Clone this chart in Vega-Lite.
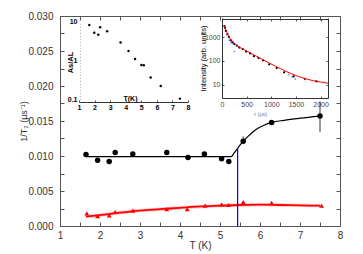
{
  "$schema": "https://vega.github.io/schema/vega-lite/v6.json",
  "width": 280,
  "height": 210,
  "autosize": {"type": "none"},
  "padding": {"left": 60, "top": 16, "right": 23, "bottom": 28},
  "config": {
    "view": {"stroke": null},
    "font": "Liberation Sans",
    "axis": {"grid": false, "domainColor": "#555", "tickColor": "#555", "labelColor": "#333", "labelFont": "Liberation Sans", "titleFont": "Liberation Sans", "labelFontSize": 10, "labelFlush": false, "labelOverlap": false}
  },
  "datasets": {
    "ptsBlack": [
      {"T": 1.65, "v": 0.0102}, {"T": 1.94, "v": 0.0094}, {"T": 2.23, "v": 0.0092}, {"T": 2.38, "v": 0.0105},
      {"T": 2.82, "v": 0.0103}, {"T": 3.67, "v": 0.0105}, {"T": 4.2, "v": 0.0098}, {"T": 4.61, "v": 0.0103},
      {"T": 5.04, "v": 0.0096}, {"T": 5.22, "v": 0.0092}, {"T": 5.58, "v": 0.0121}, {"T": 6.29, "v": 0.0148},
      {"T": 7.5, "v": 0.0157}
    ],
    "ptsRed": [
      {"T": 1.67, "v": 0.0018}, {"T": 1.94, "v": 0.0014}, {"T": 2.23, "v": 0.0015}, {"T": 2.38, "v": 0.002},
      {"T": 2.82, "v": 0.0022}, {"T": 3.67, "v": 0.0024}, {"T": 4.18, "v": 0.0024}, {"T": 4.63, "v": 0.0029},
      {"T": 5.04, "v": 0.0031}, {"T": 5.21, "v": 0.003}, {"T": 5.58, "v": 0.0034}, {"T": 6.29, "v": 0.0033},
      {"T": 7.54, "v": 0.0029}
    ],
    "fitBlack": [
      {"T": 1.65, "v": 0.0099}, {"T": 5.28, "v": 0.0099}, {"T": 5.35, "v": 0.0104}, {"T": 5.44, "v": 0.0111},
      {"T": 5.55, "v": 0.0119}, {"T": 5.7, "v": 0.0128}, {"T": 5.9, "v": 0.0138}, {"T": 6.1, "v": 0.0144},
      {"T": 6.3, "v": 0.0148}, {"T": 6.6, "v": 0.0151}, {"T": 7.0, "v": 0.0154}, {"T": 7.5, "v": 0.0157}
    ],
    "fitRed": [
      {"T": 1.65, "v": 0.00135}, {"T": 2.0, "v": 0.00155}, {"T": 2.5, "v": 0.0019}, {"T": 3.0, "v": 0.0022},
      {"T": 3.5, "v": 0.0024}, {"T": 4.0, "v": 0.0026}, {"T": 4.5, "v": 0.0028}, {"T": 5.0, "v": 0.0029},
      {"T": 5.5, "v": 0.003}, {"T": 6.0, "v": 0.00305}, {"T": 6.5, "v": 0.003}, {"T": 7.0, "v": 0.00295},
      {"T": 7.5, "v": 0.0029}
    ],
    "vline": [{"T": 5.44, "v": 0, "v2": 0.0111}],
    "errs": [{"T": 7.5, "v": 0.0134, "v2": 0.0178}, {"T": 5.58, "v": 0.0117, "v2": 0.0128}],
    "inset1": [
      {"T": 1.66, "r": 8.2}, {"T": 1.98, "r": 5.2}, {"T": 2.24, "r": 4.6}, {"T": 2.36, "r": 7.2},
      {"T": 2.81, "r": 5.7}, {"T": 3.67, "r": 2.9}, {"T": 4.18, "r": 1.75}, {"T": 4.6, "r": 1.09},
      {"T": 5.01, "r": 0.77}, {"T": 5.16, "r": 0.75}, {"T": 5.6, "r": 0.365}, {"T": 6.25, "r": 0.22},
      {"T": 7.48, "r": 0.104}
    ],
    "inset2fit": [
      {"t": 40, "I": 3200}, {"t": 60, "I": 2600}, {"t": 80, "I": 2000}, {"t": 110, "I": 1450}, {"t": 150, "I": 1000},
      {"t": 200, "I": 720}, {"t": 250, "I": 560}, {"t": 300, "I": 460}, {"t": 350, "I": 390}, {"t": 450, "I": 300},
      {"t": 550, "I": 235}, {"t": 650, "I": 180}, {"t": 750, "I": 140}, {"t": 850, "I": 108}, {"t": 950, "I": 83},
      {"t": 1100, "I": 58}, {"t": 1250, "I": 40}, {"t": 1400, "I": 29}, {"t": 1550, "I": 22}, {"t": 1700, "I": 17.5},
      {"t": 1850, "I": 14.5}, {"t": 2000, "I": 12.8}, {"t": 2150, "I": 11.3}
    ],
    "inset2black": [
      {"t": 50, "I": 3000}, {"t": 62, "I": 2570}, {"t": 80, "I": 1900}, {"t": 110, "I": 1400}, {"t": 140, "I": 1050},
      {"t": 180, "I": 760}, {"t": 210, "I": 650}, {"t": 248, "I": 530}, {"t": 300, "I": 450}, {"t": 351, "I": 370},
      {"t": 420, "I": 320}, {"t": 490, "I": 250}, {"t": 570, "I": 210}, {"t": 647, "I": 160}, {"t": 740, "I": 135},
      {"t": 833, "I": 105}, {"t": 957, "I": 72}, {"t": 1110, "I": 50}, {"t": 1260, "I": 33}, {"t": 1453, "I": 22},
      {"t": 1680, "I": 17.5}, {"t": 1915, "I": 13.5}
    ],
    "inset2blue": [
      {"t": 70, "I": 2000}, {"t": 100, "I": 1300}, {"t": 145, "I": 775}, {"t": 180, "I": 600}, {"t": 213, "I": 565},
      {"t": 248, "I": 250}, {"t": 1350, "I": 26}, {"t": 1420, "I": 21}, {"t": 1487, "I": 17}
    ]
  },
  "layer": [
    {
      "encoding": {
        "x": {"field": "T", "type": "quantitative", "scale": {"domain": [1, 8], "nice": false, "zero": false},
          "axis": {"orient": "bottom", "values": [1, 1.5, 2, 2.5, 3, 3.5, 4, 4.5, 5, 5.5, 6, 6.5, 7, 7.5, 8], "format": "~g",
            "labelExpr": "datum.value % 1 == 0 ? datum.label : ''", "tickSize": -4, "labelPadding": 8,
            "title": "T (K)", "titleFontSize": 10, "titleFontWeight": "normal", "titleColor": "#333", "titleY": 19, "titleBaseline": "middle"}},
        "y": {"field": "v", "type": "quantitative", "scale": {"domain": [0, 0.03], "nice": false, "zero": false},
          "axis": {"orient": "left", "values": [0, 0.0025, 0.005, 0.0075, 0.01, 0.0125, 0.015, 0.0175, 0.02, 0.0225, 0.025, 0.0275, 0.03], "format": ".3f",
            "labelExpr": "round(datum.value*10000) % 50 == 0 ? datum.label : ''", "tickSize": -4, "labelPadding": 11,
            "title": "1/T₂ (μs⁻¹)", "titleFontSize": 9, "titleFontWeight": "normal", "titleColor": "#333", "titleAngle": -90,
            "titleX": -37, "titleY": 105, "titleBaseline": "middle", "titleAlign": "center"}}
      },
      "layer": [
        {"data": {"name": "fitRed"}, "mark": {"type": "line", "color": "#ff0000", "strokeWidth": 3.5, "opacity": 0.2, "interpolate": "monotone"}},
        {"data": {"name": "fitRed"}, "mark": {"type": "line", "color": "#ff0000", "strokeWidth": 1.8, "interpolate": "monotone"}},
        {"data": {"name": "fitBlack"}, "mark": {"type": "line", "color": "#000000", "strokeWidth": 1.2, "interpolate": "monotone"}},
        {"data": {"name": "vline"}, "mark": {"type": "rule", "color": "#0000ff", "strokeWidth": 1.2}, "encoding": {"y2": {"field": "v2"}}},
        {"data": {"name": "errs"}, "mark": {"type": "rule", "color": "#000000", "strokeWidth": 0.8}, "encoding": {"y2": {"field": "v2"}}},
        {"data": {"name": "ptsRed"}, "mark": {"type": "point", "shape": "triangle-up", "filled": true, "color": "#ff0000", "size": 24, "opacity": 1}},
        {"data": {"name": "ptsBlack"}, "mark": {"type": "point", "shape": "circle", "filled": true, "color": "#000000", "size": 30, "opacity": 1}}
      ]
    },
    {
      "data": {"name": "ptsBlack"},
      "mark": {"type": "point", "opacity": 0},
      "encoding": {
        "x": {"field": "T", "type": "quantitative", "scale": {"domain": [1, 8], "nice": false, "zero": false},
          "axis": {"orient": "top", "values": [1, 1.5, 2, 2.5, 3, 3.5, 4, 4.5, 5, 5.5, 6, 6.5, 7, 7.5, 8], "labels": false, "tickSize": -4, "title": null}},
        "y": {"field": "v", "type": "quantitative", "scale": {"domain": [0, 0.03], "nice": false, "zero": false},
          "axis": {"orient": "right", "values": [0, 0.0025, 0.005, 0.0075, 0.01, 0.0125, 0.015, 0.0175, 0.02, 0.0225, 0.025, 0.0275, 0.03], "labels": false, "tickSize": -4, "title": null}}
      }
    },
    {
      "data": {"name": "inset1"},
      "mark": {"type": "point", "shape": "circle", "filled": true, "color": "#000000", "size": 6, "opacity": 1},
      "encoding": {
        "x": {"field": "T", "type": "quantitative", "scale": {"domain": [1, 8], "range": [19, 128], "nice": false, "zero": false},
          "axis": {"orient": "bottom", "offset": -124, "values": [1, 2, 3, 4, 5, 6, 7, 8], "format": "d", "tickSize": -2, "labelPadding": 3,
            "labelFontSize": 7, "labelFontWeight": "bold", "labelColor": "#000", "domainColor": "#333",
            "title": "T(K)", "titleFontSize": 7, "titleFontWeight": "bold", "titleColor": "#000", "titleX": 70, "titleY": -1, "titleBaseline": "bottom", "titleAlign": "center"}},
        "y": {"field": "r", "type": "quantitative", "scale": {"type": "log", "domain": [0.1, 10], "range": [83.3, 5.7], "nice": false, "zero": false},
          "axis": {"orient": "left", "offset": -20, "values": [0.1, 1, 10], "format": "~g", "ticks": false, "labelPadding": 3,
            "labelFontSize": 7, "labelFontWeight": "bold", "labelColor": "#000", "domainColor": "#aaa", "domainDash": [1, 2],
            "title": "As/AL", "titleFontSize": 7.5, "titleFontWeight": "bold", "titleColor": "#000", "titleAngle": -90,
            "titleX": -10, "titleY": 46, "titleBaseline": "middle", "titleAlign": "center"}}
      }
    },
    {
      "encoding": {
        "x": {"field": "t", "type": "quantitative", "scale": {"domain": [0, 2150], "range": [162, 268], "nice": false, "zero": false},
          "axis": {"orient": "bottom", "offset": -128, "values": [0, 500, 1000, 1500, 2000], "format": "d", "tickSize": -2, "labelPadding": 4,
            "labelFontSize": 7, "labelColor": "#444", "domainColor": "#333",
            "title": "τ (μs)", "titleFontSize": 5.5, "titleFontWeight": "normal", "titleColor": "#777", "titleX": 200, "titleY": 15, "titleBaseline": "middle", "titleAlign": "center"}},
        "y": {"field": "I", "type": "quantitative", "scale": {"type": "log", "domain": [2.67, 6700], "range": [82, 2], "nice": false, "zero": false},
          "axis": {"orient": "left", "offset": -162, "values": [10, 100, 1000], "format": "d", "tickSize": -2, "labelPadding": 4,
            "labelFontSize": 7, "labelColor": "#444", "domainColor": "#333",
            "title": "Intensity (arb. units)", "titleFontSize": 7.5, "titleFontWeight": "normal", "titleColor": "#000", "titleAngle": -90,
            "titleX": -18.5, "titleY": 42, "titleBaseline": "middle", "titleAlign": "center"}}
      },
      "layer": [
        {"data": {"name": "inset2blue"}, "mark": {"type": "point", "shape": "circle", "filled": true, "color": "#6666ff", "size": 3, "opacity": 0.8}},
        {"data": {"name": "inset2black"}, "mark": {"type": "point", "shape": "circle", "filled": true, "color": "#000000", "size": 5, "opacity": 1}},
        {"data": {"name": "inset2fit"}, "mark": {"type": "line", "color": "#ff0000", "strokeWidth": 1, "interpolate": "monotone"}}
      ]
    },
    {
      "data": {"name": "inset2fit"},
      "mark": {"type": "point", "opacity": 0},
      "encoding": {
        "x": {"field": "t", "type": "quantitative", "scale": {"domain": [0, 2150], "range": [162, 268], "nice": false, "zero": false},
          "axis": {"orient": "top", "offset": -3, "values": [0, 500, 1000, 1500, 2000], "labels": false, "tickSize": -2, "title": null, "domainColor": "#333"}},
        "y": {"field": "I", "type": "quantitative", "scale": {"type": "log", "domain": [2.67, 6700], "range": [82, 2], "nice": false, "zero": false},
          "axis": {"orient": "right", "offset": -12, "values": [10, 100, 1000], "labels": false, "tickSize": -2, "title": null, "domainColor": "#333"}}
      }
    }
  ],
  "resolve": {"scale": {"x": "independent", "y": "independent"}, "axis": {"x": "independent", "y": "independent"}}
}
